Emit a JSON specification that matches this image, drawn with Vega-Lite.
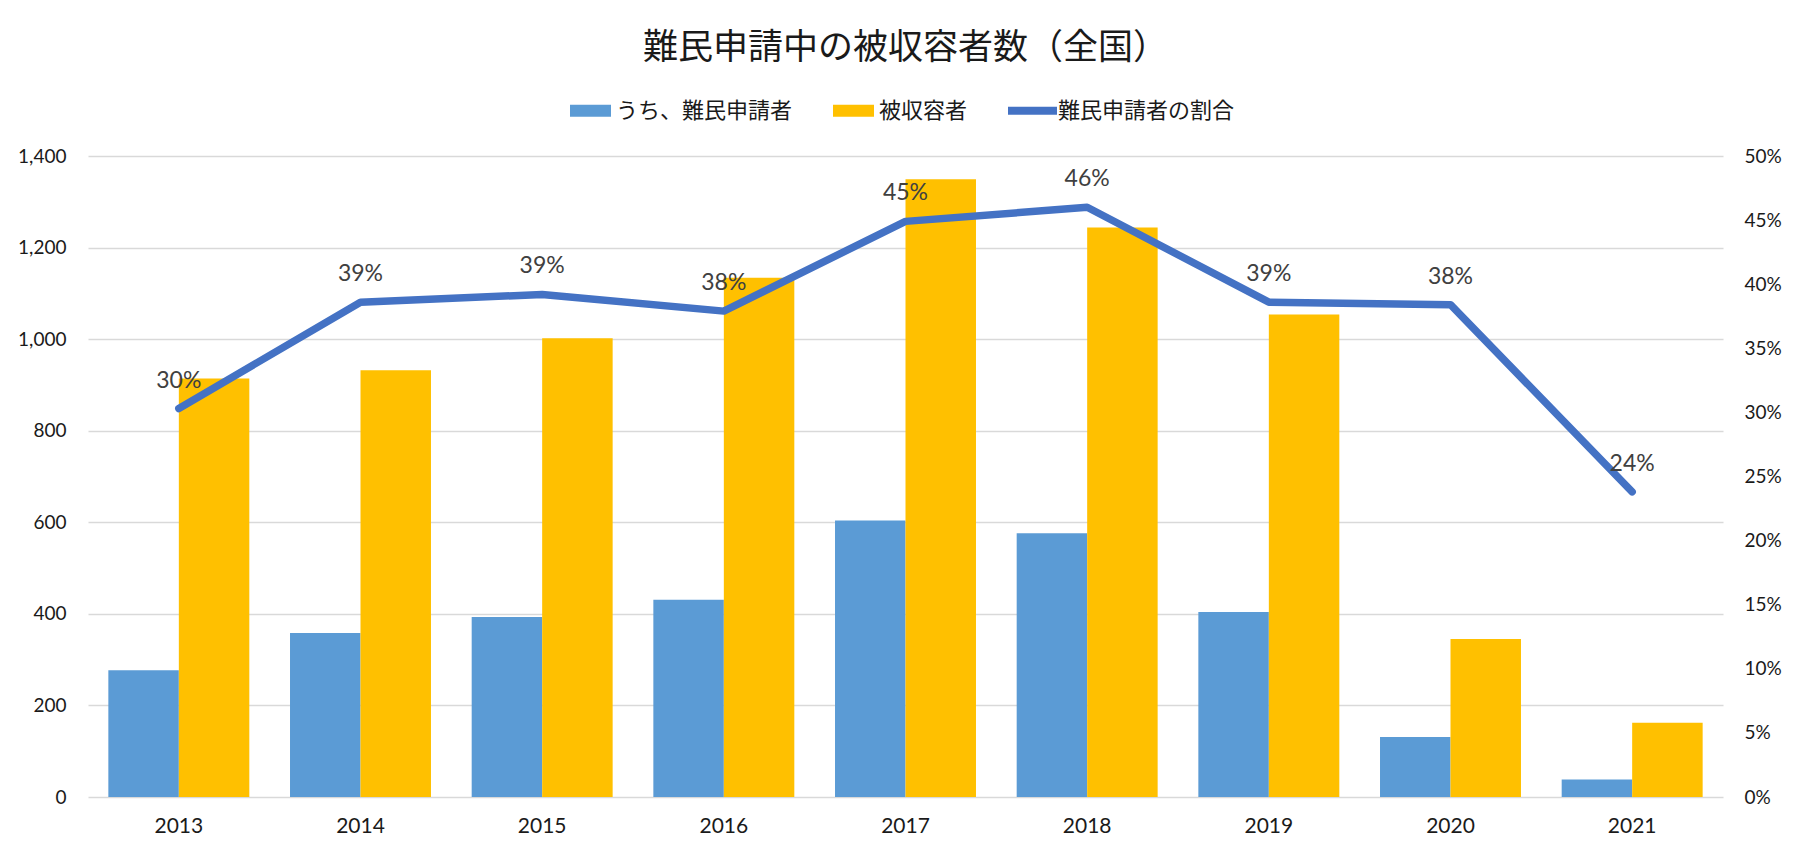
{
  "$schema": "https://vega.github.io/schema/vega-lite/v6.json",
  "width": 1635,
  "height": 641,
  "autosize": {"type": "none"},
  "padding": {"left": 88, "top": 156, "right": 77, "bottom": 59},
  "background": "white",
  "title": {
    "text": "難民申請中の被収容者数（全国）",
    "font": "Noto Sans CJK JP",
    "fontSize": 35,
    "fontWeight": "normal",
    "color": "#1a1a1a",
    "anchor": "middle",
    "frame": "group",
    "offset": 24
  },
  "datasets": {
    "rows": [
      {"年": "2013", "うち、難民申請者": 277, "被収容者": 914, "割合": 0.303},
      {"年": "2014", "うち、難民申請者": 358, "被収容者": 932, "割合": 0.386},
      {"年": "2015", "うち、難民申請者": 393, "被収容者": 1002, "割合": 0.392},
      {"年": "2016", "うち、難民申請者": 431, "被収容者": 1134, "割合": 0.379},
      {"年": "2017", "うち、難民申請者": 604, "被収容者": 1349, "割合": 0.449},
      {"年": "2018", "うち、難民申請者": 576, "被収容者": 1244, "割合": 0.46},
      {"年": "2019", "うち、難民申請者": 404, "被収容者": 1054, "割合": 0.386},
      {"年": "2020", "うち、難民申請者": 131, "被収容者": 345, "割合": 0.384},
      {"年": "2021", "うち、難民申請者": 38, "被収容者": 162, "割合": 0.238}
    ]
  },
  "data": {"name": "rows"},
  "layer": [
    {
      "transform": [
        {"fold": ["うち、難民申請者", "被収容者"], "as": ["系列", "人数"]}
      ],
      "mark": {"type": "bar"},
      "encoding": {
        "x": {
          "field": "年",
          "type": "nominal",
          "scale": {"paddingInner": 0.224, "paddingOuter": 0.112},
          "axis": {
            "title": null,
            "labelAngle": 0,
            "domain": false,
            "ticks": false,
            "grid": false,
            "labelPadding": 18,
            "labelFont": "Lato",
            "labelFontSize": 21,
            "labelColor": "#1a1a1a"
          }
        },
        "xOffset": {
          "field": "系列",
          "type": "nominal",
          "sort": ["うち、難民申請者", "被収容者"],
          "scale": {"paddingInner": 0, "paddingOuter": 0}
        },
        "y": {
          "field": "人数",
          "type": "quantitative",
          "scale": {"domain": [0, 1400], "nice": false},
          "axis": {
            "title": null,
            "values": [0, 200, 400, 600, 800, 1000, 1200, 1400],
            "format": ",.0f",
            "domain": false,
            "ticks": false,
            "labelPadding": 22,
            "labelFont": "Lato",
            "labelFontSize": 19,
            "labelColor": "#1a1a1a",
            "gridColor": "#D9D9D9",
            "gridWidth": 1.3
          }
        },
        "color": {
          "field": "系列",
          "type": "nominal",
          "scale": {
            "domain": ["うち、難民申請者", "被収容者", "難民申請者の割合"],
            "range": ["#5B9BD5", "#FFC000", "#4472C4"]
          },
          "legend": {
            "title": null,
            "orient": "none",
            "legendX": 482,
            "legendY": -66,
            "direction": "horizontal",
            "labelFont": "Noto Sans CJK JP",
            "labelFontSize": 22,
            "labelColor": "#1a1a1a",
            "labelLimit": 400,
            "labelOffset": 5,
            "columnPadding": 40,
            "symbolType": "M-1,-0.29H1V0.29H-1Z",
            "symbolSize": 1681,
            "symbolStrokeWidth": 0,
            "encode": {
              "symbols": {
                "update": {
                  "shape": {"signal": "datum.value === '難民申請者の割合' ? 'M-1,-0.16H1V0.16H-1Z' : 'M-1,-0.29H1V0.29H-1Z'"},
                  "size": {"signal": "datum.value === '難民申請者の割合' ? 2401 : 1681"},
                  "fill": {"signal": "scale('color', datum.value)"},
                  "strokeWidth": {"value": 0},
                  "opacity": {"value": 1}
                }
              }
            }
          }
        }
      }
    },
    {
      "encoding": {
        "x": {"field": "年", "type": "nominal"},
        "y": {
          "field": "割合",
          "type": "quantitative",
          "scale": {"domain": [0, 0.5], "nice": false},
          "axis": {
            "title": null,
            "orient": "right",
            "values": [0, 0.05, 0.1, 0.15, 0.2, 0.25, 0.3, 0.35, 0.4, 0.45, 0.5],
            "format": ".0%",
            "grid": false,
            "domain": false,
            "ticks": false,
            "labelPadding": 21,
            "labelFont": "Lato",
            "labelFontSize": 19,
            "labelColor": "#1a1a1a"
          }
        }
      },
      "layer": [
        {
          "mark": {"type": "line", "strokeWidth": 7.5, "strokeCap": "round", "strokeJoin": "round"},
          "encoding": {"color": {"datum": "難民申請者の割合"}}
        },
        {
          "mark": {"type": "text", "dy": -21, "baseline": "alphabetic", "font": "Lato", "fontSize": 23, "color": "#404040"},
          "encoding": {"text": {"field": "割合", "type": "quantitative", "format": ".0%"}}
        }
      ]
    }
  ],
  "resolve": {"scale": {"y": "independent"}},
  "config": {"view": {"stroke": null}}
}
